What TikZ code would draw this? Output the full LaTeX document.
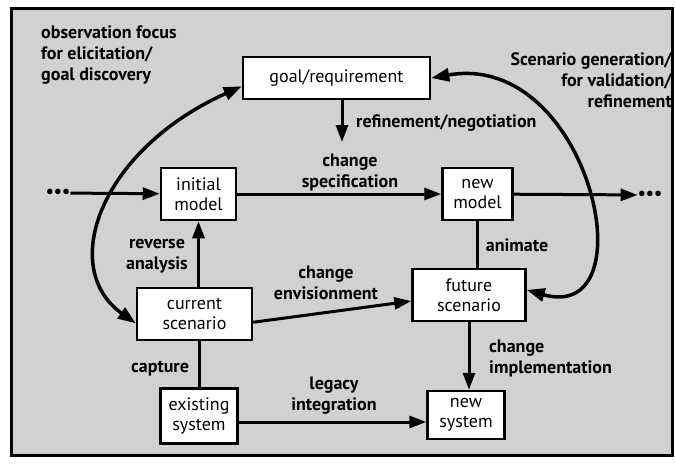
\documentclass[tikz,border=0pt]{standalone}
\usepackage{fontspec}
\setmainfont{PT Sans}
\usetikzlibrary{arrows.meta}

\begin{document}
\begin{tikzpicture}[x=1pt,y=-1pt,
    box/.style={shape=rectangle,draw=black,fill=white,line width=2.5pt,align=center,inner sep=0pt,font=\fontsize{18}{20}\selectfont},
    lab/.style={inner sep=0pt,font=\bfseries\fontsize{18}{21}\selectfont},
    flow/.style={line width=3pt,-{Triangle[length=17pt,width=12pt]}},
    plain/.style={line width=3pt},
    loop/.style={line width=3.5pt,{Triangle[length=18pt,width=13pt]}-{Triangle[length=18pt,width=13pt]}}]
        \useasboundingbox (0,0) rectangle (675,464);
        \fill[black!18] (11,8) rectangle (672,455);
        \draw[line width=3pt] (11,8) rectangle (672,455);

        \node[box,minimum width=187,minimum height=42] (goal) at (336.5,78) {goal/requirement};
        \node[box,minimum width=75,minimum height=52] (initial) at (198.5,194) {initial\\model};
        \node[box,minimum width=70,minimum height=52] (newmodel) at (477.5,194) {new\\model};
        \node[box,minimum width=115,minimum height=52] (current) at (194.5,314) {current\\scenario};
        \node[box,minimum width=113,minimum height=52] (future) at (469,295) {future\\scenario};
        \node[box,minimum width=77,minimum height=55] (existing) at (199,416) {existing\\system};
        \node[box,minimum width=77,minimum height=48] (newsystem) at (466,415) {new\\system};

        \node[inner sep=0pt,font=\bfseries\fontsize{18}{18}\selectfont] (ldots) at (58,193) {\textbullet\textbullet\textbullet};
        \node[inner sep=0pt,font=\bfseries\fontsize{18}{18}\selectfont] (rdots) at (650,195) {\textbullet\textbullet\textbullet};
        \coordinate (refend) at (342,142);

        % labels
        \node[lab,anchor=north west,align=left] (obs) at (41,25) {observation focus\\for elicitation/\\goal discovery};
        \node[lab,anchor=north east,align=right] (gen) at (672,52) {Scenario generation/\\for validation/\\refinement};
        \node[lab,anchor=west] (refneg) at (356,123) {refinement/negotiation};
        \node[lab,align=center] (chspec) at (350,172) {change\\specification};
        \node[lab,align=center] (reverse) at (157,256) {reverse\\analysis};
        \node[lab,align=center] (chenv) at (326,283) {change\\envisionment};
        \node[lab] (animate) at (517,245) {animate};
        \node[lab] (capture) at (160,369) {capture};
        \node[lab,align=center] (legacy) at (334,396) {legacy\\integration};
        \node[lab,anchor=west,align=left] (chimpl) at (489,358) {change\\implementation};

        \path [flow](ldots) edge (initial);
        \path [flow](initial) edge (newmodel);
        \path [flow](newmodel) edge (rdots);
        \path [flow](goal.south -| refend) edge (refend);
        \path [flow](current.north -| initial.south) edge (initial.south);
        \path [plain](existing.north) edge (existing.north |- current.south);
        \path [plain](newmodel.south) edge (newmodel.south |- future.north);
        \path [flow](current.-8) edge (future.186);
        \path [flow](future.south) edge (future.south |- newsystem.north);
        \path [flow]([yshift=-6pt]existing.east) edge ([yshift=-6pt]existing.east -| newsystem.west);
        \draw [loop](current.189) .. controls (58,268) and (100,150) .. (goal.185);
        \draw [loop](goal.east) .. controls (590,50) and (650,325) .. (future.5);
    \end{tikzpicture}
\end{document}
